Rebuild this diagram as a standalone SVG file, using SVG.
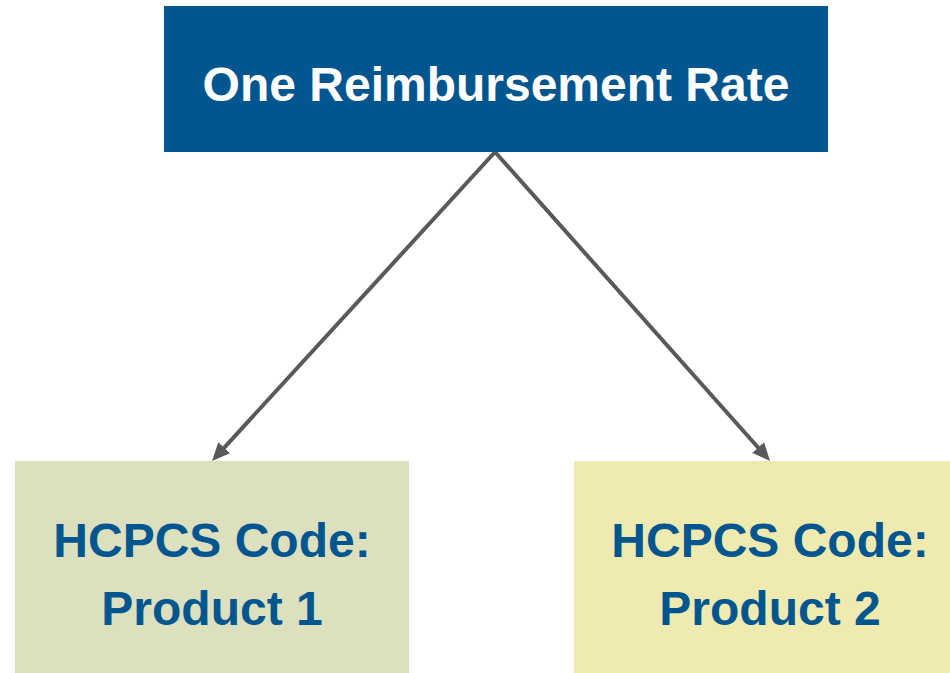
<svg xmlns="http://www.w3.org/2000/svg" width="950" height="673" viewBox="0 0 950 673">
  <style>
    .lbl { font-family: "Liberation Sans", Arial, sans-serif; font-weight: bold; font-size: 48px; text-anchor: middle; }
    .white { fill: #FFFFFF; }
    .blue { fill: #02568F; }
    .conn { stroke: #595959; stroke-width: 4; fill: none; marker-end: url(#arrow); }
  </style>
  <defs>
    <marker id="arrow" markerUnits="userSpaceOnUse" markerWidth="20" markerHeight="18" refX="8" refY="8" orient="auto">
      <path d="M0,0 L18,8 L0,16 z" fill="#595959"/>
    </marker>
  </defs>
  <rect width="950" height="673" fill="#FFFFFF"/>
  <g id="connectors">
    <line class="conn" x1="495" y1="152" x2="218.8" y2="453.6"/>
    <line class="conn" x1="495" y1="152" x2="763.4" y2="453.5"/>
  </g>
  <g id="node-rate">
    <rect x="164" y="6" width="664" height="146" fill="#02568F"/>
    <text class="lbl white" x="496" y="101">One Reimbursement Rate</text>
  </g>
  <g id="node-product1">
    <rect x="15" y="461" width="394" height="212" fill="#DDE0BF"/>
    <text class="lbl blue" x="212" y="557">HCPCS Code:</text>
    <text class="lbl blue" x="212" y="625">Product 1</text>
  </g>
  <g id="node-product2">
    <rect x="574" y="461" width="392" height="212" fill="#EFEBB0"/>
    <text class="lbl blue" x="770" y="557">HCPCS Code:</text>
    <text class="lbl blue" x="770" y="625">Product 2</text>
  </g>
</svg>
